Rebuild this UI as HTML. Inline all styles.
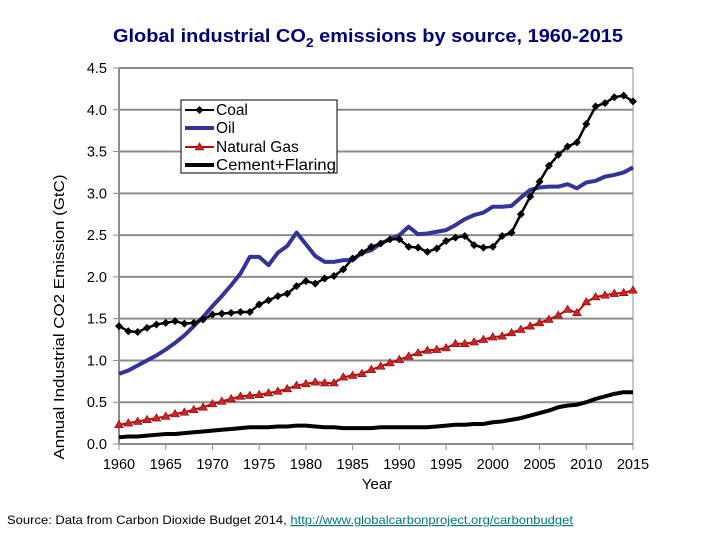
<!DOCTYPE html>
<html><head><meta charset="utf-8"><style>
body{margin:0;background:#fff;width:720px;height:540px;overflow:hidden;font-family:"Liberation Sans",Arial,sans-serif}
</style></head><body>
<svg id="chart" width="720" height="540" style="position:absolute;left:0;top:0">
<text x="368" y="42" text-anchor="middle" font-size="18.5" font-weight="bold" fill="#00007a" textLength="510" lengthAdjust="spacingAndGlyphs">Global industrial CO<tspan font-size="13" dy="5">2</tspan><tspan dy="-5"> emissions by source, 1960-2015</tspan></text>
<text transform="translate(64,317) rotate(-90)" text-anchor="middle" font-size="15" textLength="285" lengthAdjust="spacingAndGlyphs">Annual Industrial CO2 Emission (GtC)</text>
<text x="377" y="489" text-anchor="middle" font-size="15">Year</text>
<text x="7" y="524" font-size="12" textLength="566" lengthAdjust="spacingAndGlyphs">Source: Data from Carbon Dioxide Budget 2014, <tspan fill="#007a7a" text-decoration="underline">http://www.globalcarbonproject.org/carbonbudget </tspan></text>
<g id="grid"></g><g id="series"></g>
<g>
<rect x="181" y="100" width="156" height="73" fill="#fff" stroke="#000" stroke-width="1"/>
<line x1="185" y1="110" x2="214" y2="110" stroke="#000" stroke-width="2"/><path d="M199.5 106 L203.5 110 L199.5 114 L195.5 110Z" fill="#000"/>
<text x="216" y="115" font-size="15.5">Coal</text>
<line x1="185" y1="128" x2="214" y2="128" stroke="#333399" stroke-width="4"/>
<text x="216" y="133" font-size="15.5">Oil</text>
<line x1="185" y1="147" x2="214" y2="147" stroke="#cc0000" stroke-width="2"/><path d="M199.5 142.5 L204 150 L195 150Z" fill="#cc2222" stroke="#600" stroke-width="0.5"/>
<text x="216" y="152" font-size="15.5">Natural Gas</text>
<line x1="185" y1="165" x2="214" y2="165" stroke="#000" stroke-width="4"/>
<text x="216" y="170" font-size="15.5" textLength="120" lengthAdjust="spacingAndGlyphs">Cement+Flaring</text>
</g>
</svg>
<script>
const years=[];for(let y=1960;y<=2015;y++)years.push(y);
const xTicks=[1960,1965,1970,1975,1980,1985,1990,1995,2000,2005,2010,2015];
const yTicks=[0,0.5,1,1.5,2,2.5,3,3.5,4,4.5];
const coal=[1.41,1.35,1.34,1.39,1.43,1.45,1.47,1.44,1.45,1.49,1.55,1.56,1.57,1.58,1.58,1.67,1.72,1.77,1.80,1.89,1.95,1.92,1.98,2.01,2.09,2.22,2.29,2.36,2.40,2.45,2.45,2.36,2.35,2.30,2.34,2.43,2.47,2.49,2.38,2.35,2.36,2.49,2.53,2.75,2.96,3.14,3.33,3.46,3.56,3.61,3.83,4.04,4.08,4.15,4.17,4.10];
const oil=[0.84,0.88,0.94,1.00,1.06,1.13,1.21,1.30,1.41,1.52,1.65,1.77,1.90,2.04,2.24,2.24,2.14,2.29,2.37,2.53,2.39,2.25,2.18,2.18,2.20,2.20,2.29,2.32,2.40,2.45,2.50,2.60,2.51,2.52,2.54,2.56,2.62,2.69,2.74,2.77,2.84,2.84,2.85,2.95,3.04,3.07,3.08,3.08,3.11,3.06,3.13,3.15,3.20,3.22,3.25,3.31];
const gas=[0.23,0.25,0.27,0.29,0.31,0.33,0.36,0.38,0.41,0.44,0.48,0.51,0.54,0.57,0.58,0.59,0.61,0.63,0.66,0.70,0.72,0.74,0.73,0.73,0.80,0.82,0.84,0.89,0.93,0.97,1.01,1.05,1.09,1.12,1.13,1.15,1.20,1.20,1.22,1.25,1.28,1.29,1.33,1.37,1.41,1.45,1.49,1.54,1.61,1.57,1.70,1.76,1.78,1.80,1.81,1.84];
const cement=[0.08,0.09,0.09,0.10,0.11,0.12,0.12,0.13,0.14,0.15,0.16,0.17,0.18,0.19,0.20,0.20,0.20,0.21,0.21,0.22,0.22,0.21,0.20,0.20,0.19,0.19,0.19,0.19,0.20,0.20,0.20,0.20,0.20,0.20,0.21,0.22,0.23,0.23,0.24,0.24,0.26,0.27,0.29,0.31,0.34,0.37,0.40,0.44,0.46,0.47,0.50,0.54,0.57,0.60,0.62,0.62];
const X=v=>119+(v-1960)*(633-119)/55;
const Y=v=>444-v*(444-68)/4.5;
const NS='http://www.w3.org/2000/svg';
const grid=document.getElementById('grid'),ser=document.getElementById('series');
function mk(p,t,a){const e=document.createElementNS(NS,t);for(const k in a)e.setAttribute(k,a[k]);p.appendChild(e);return e;}
yTicks.forEach(v=>{
 if(v>0){const l=mk(grid,'line',{x1:119,x2:633,y1:Y(v),y2:Y(v),stroke:'#8c8c8c','stroke-width':2});
 
 }
 mk(grid,'line',{x1:113,x2:119,y1:Y(v),y2:Y(v),stroke:'#8c8c8c','stroke-width':1});
 const t=mk(grid,'text',{x:107,y:Y(v)+5,'text-anchor':'end','font-size':14.5});t.textContent=v.toFixed(1);
 
 
});
mk(grid,'line',{x1:119,x2:119,y1:68,y2:444,stroke:'#8c8c8c','stroke-width':2});
mk(grid,'line',{x1:633,x2:633,y1:68,y2:444,stroke:'#8c8c8c','stroke-width':1});
mk(grid,'line',{x1:119,x2:633,y1:444,y2:444,stroke:'#8c8c8c','stroke-width':2});
xTicks.forEach(v=>{
 mk(grid,'line',{x1:X(v),x2:X(v),y1:444,y2:450,stroke:'#8c8c8c','stroke-width':1});
 const t=mk(grid,'text',{x:X(v),y:469,'text-anchor':'middle','font-size':14.5});t.textContent=v;
 
 
});
function line(d,color,w,name){const p=mk(ser,'polyline',{points:d.map((v,i)=>X(years[i])+','+Y(v)).join(' '),fill:'none',stroke:color,'stroke-width':w,'stroke-linejoin':'round'});
 
 }
line(cement,'#000',4,'cement-flaring-line');
line(gas,'#cc0000',2,'natural-gas-line');
gas.forEach((v,i)=>{const x=X(years[i]),y=Y(v);const m=mk(ser,'path',{d:`M${x} ${y-4.5}L${x+4.5} ${y+3}L${x-4.5} ${y+3}Z`,fill:'#cc2222',stroke:'#600','stroke-width':0.5});
 
 });
line(oil,'#333399',4,'oil-line');
line(coal,'#000',2.5,'coal-line');
coal.forEach((v,i)=>{const x=X(years[i]),y=Y(v);const m=mk(ser,'path',{d:`M${x} ${y-4}L${x+4} ${y}L${x} ${y+4}L${x-4} ${y}Z`,fill:'#000'});
 
 });
</script>
</body></html>
